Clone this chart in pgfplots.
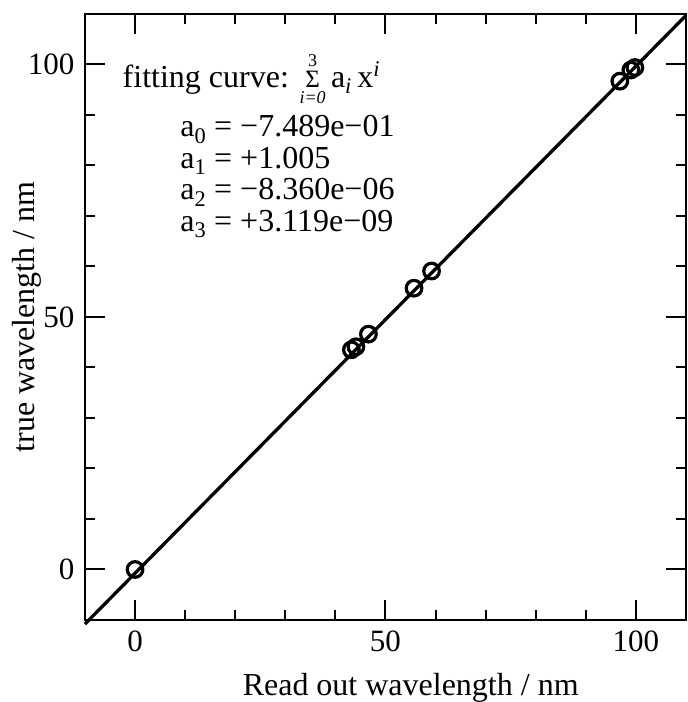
\documentclass[border=0pt]{standalone}
\usepackage{pgfplots}
\pgfplotsset{compat=1.18}
\usepackage{amsmath}
\usepackage{fontspec}
\setmainfont{Liberation Serif}
\begin{document}
\fontsize{31}{37}\selectfont
\begin{tikzpicture}
\begin{axis}[
  scale only axis, width=601pt, height=606pt,
  xmin=-10, xmax=110, ymin=-10, ymax=110,
  xtick={0,50,100}, ytick={0,50,100},
  minor tick num=4,
  tick align=inside,
  major tick length=20pt, minor tick length=10pt,
  axis line style={line width=2.3pt},
  every tick/.style={black, line width=2pt},
  /pgf/number format/assume math mode=true,
  tick label style={font=\fontsize{31}{37}\selectfont},
  label style={font=\fontsize{32}{38}\selectfont},
  xlabel={Read out wavelength / nm},
  ylabel={true wavelength / nm},
  xlabel style={at={(axis description cs:0.542,-0.124)}, anchor=base, inner sep=0pt},
  ylabel style={at={(axis description cs:-0.0715,0.5)}, anchor=south, inner sep=0pt},
  clip=false,
]
\addplot[black, line width=3.3pt] coordinates {(-10,-10.80) (0,-0.749) (50,49.48) (110,109.70)};
\addplot[black, only marks, mark=o, mark size=7.8pt, line width=3.2pt] coordinates {
  (0,0) (43.2,43.5) (44.1,44.1) (46.6,46.6) (55.7,55.7) (59.2,59.1) (96.8,96.7) (99.0,98.9) (99.8,99.4)};
\node[anchor=base west, inner sep=0pt, font=\fontsize{32}{38}\selectfont] at (axis cs:-2.5,95.4) {fitting curve:
  $\mathop{\hbox{\fontsize{25}{25}\selectfont Σ}}\limits^{\hbox{\fontsize{18}{18}\selectfont 3}}_{\hbox{\fontsize{18}{18}\selectfont\itshape i=0}}$\,a\textsubscript{\itshape i}\,x\textsuperscript{\raisebox{2pt}{\itshape i}}};
\node[anchor=base west, inner sep=0pt, font=\fontsize{32}{38}\selectfont] at (axis cs:9.0,85.7) {a\textsubscript{0} = −7.489e−01};
\node[anchor=base west, inner sep=0pt, font=\fontsize{32}{38}\selectfont] at (axis cs:9.0,79.4) {a\textsubscript{1} = +1.005};
\node[anchor=base west, inner sep=0pt, font=\fontsize{32}{38}\selectfont] at (axis cs:9.0,73.2) {a\textsubscript{2} = −8.360e−06};
\node[anchor=base west, inner sep=0pt, font=\fontsize{32}{38}\selectfont] at (axis cs:9.0,67.0) {a\textsubscript{3} = +3.119e−09};
\path (axis description cs:-0.1414,-0.1353) rectangle (axis description cs:1.0017,1.0231);
\end{axis}
\end{tikzpicture}
\end{document}
